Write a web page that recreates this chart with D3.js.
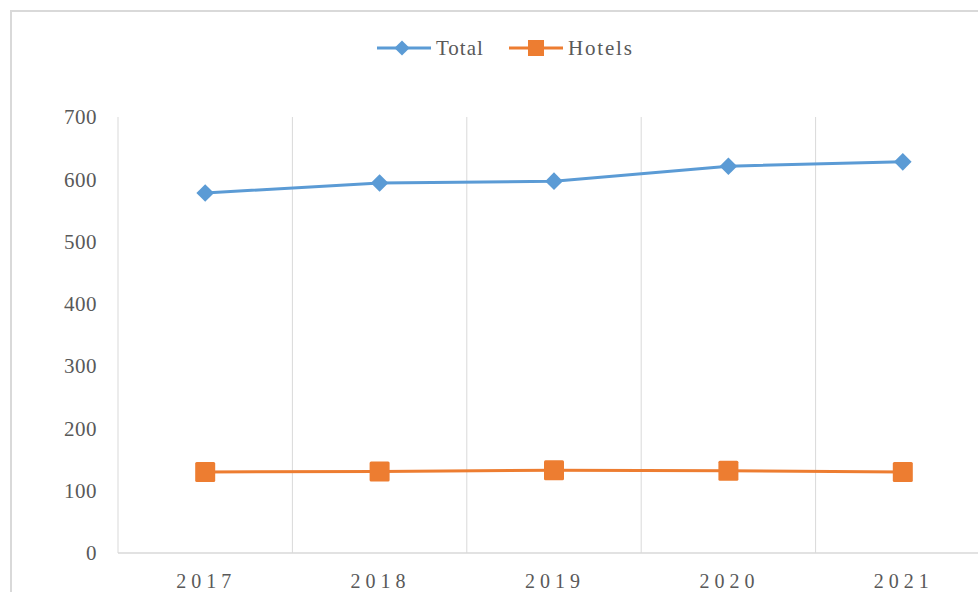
<!DOCTYPE html>
<html>
<head>
<meta charset="utf-8">
<script src="https://d3js.org/d3.v7.min.js"></script>
<style>
  body { margin: 0; background: #fff; }
  text { font-family: "Liberation Serif", "Times New Roman", serif; fill: #595959; }
</style>
</head>
<body>
<div id="chart"></div>
<script>
// data
const years = ["2017", "2018", "2019", "2020", "2021"];
const total = [578, 594, 597, 621, 628];
const hotels = [130, 131, 133, 132, 130];
const yTicks = [0, 100, 200, 300, 400, 500, 600, 700];

const width = 978, height = 592;
// plot area (right edge runs past the window, like the reference)
let margin = {top: 117, left: 118, bottom: 39};
let plotRight = 990;

const svg = d3.select("#chart").append("svg")
    .attr("width", width)
    .attr("height", height);

// outer frame
svg.append("rect")
    .attr("x", 11).attr("y", 11)
    .attr("width", 1000).attr("height", 700)
    .attr("fill", "none")
    .attr("stroke", "#d9d9d9")
    .attr("stroke-width", 2);

const x = d3.scaleBand()
    .domain(years)
    .range([margin.left, plotRight]);

const y = d3.scaleLinear()
    .domain([0, 700])
    .range([height - margin.bottom, margin.top]);

// vertical gridlines at category edges
const edges = years.map(d => x(d)).concat([x(years[years.length - 1]) + x.bandwidth()]);
svg.append("g").selectAll("line")
    .data(edges)
    .join("line")
    .attr("x1", d => d).attr("x2", d => d)
    .attr("y1", y(700)).attr("y2", y(0))
    .attr("stroke", "#d9d9d9")
    .attr("stroke-width", 1);

// bottom axis line
svg.append("line")
    .attr("x1", margin.left).attr("x2", plotRight)
    .attr("y1", y(0)).attr("y2", y(0))
    .attr("stroke", "#d9d9d9")
    .attr("stroke-width", 1.5);

// y tick labels
svg.append("g").selectAll("text")
    .data(yTicks)
    .join("text")
    .attr("x", 97)
    .attr("y", d => y(d))
    .attr("dy", "0.35em")
    .attr("text-anchor", "end")
    .style("font-size", "21px")
    .style("letter-spacing", "0.5px")
    .text(d => d);

// x tick labels
svg.append("g").selectAll("text")
    .data(years)
    .join("text")
    .attr("x", d => x(d) + x.bandwidth() / 2 + 1)
    .attr("y", 588)
    .attr("text-anchor", "middle")
    .style("font-size", "20px")
    .style("letter-spacing", "5px")
    .text(d => d);

const line = d3.line()
    .x((d, i) => x(years[i]) + x.bandwidth() / 2)
    .y(d => y(d));

const blue = "#5b9bd5", orange = "#ed7d31";

svg.append("path")
    .datum(total)
    .attr("d", line)
    .attr("fill", "none")
    .attr("stroke", blue)
    .attr("stroke-width", 3);

svg.append("path")
    .datum(hotels)
    .attr("d", line)
    .attr("fill", "none")
    .attr("stroke", orange)
    .attr("stroke-width", 3);

const diamond = d3.symbol().type(d3.symbolSquare).size(155);

svg.append("g").selectAll("path")
    .data(total)
    .join("path")
    .attr("d", diamond)
    .attr("transform", (d, i) => "translate(" + (x(years[i]) + x.bandwidth() / 2) + "," + y(d) + ") rotate(45)")
    .attr("fill", blue);

svg.append("g").selectAll("rect")
    .data(hotels)
    .join("rect")
    .attr("x", (d, i) => x(years[i]) + x.bandwidth() / 2 - 10)
    .attr("y", d => y(d) - 10)
    .attr("width", 20).attr("height", 20)
    .attr("rx", 1.5)
    .attr("fill", orange);

// legend
const legend = svg.append("g");
legend.append("line")
    .attr("x1", 377).attr("x2", 431).attr("y1", 48).attr("y2", 48)
    .attr("stroke", blue).attr("stroke-width", 3);
legend.append("path")
    .attr("d", d3.symbol().type(d3.symbolSquare).size(115))
    .attr("transform", "translate(402,48) rotate(45)")
    .attr("fill", blue);
legend.append("text")
    .attr("x", 436).attr("y", 48).attr("dy", "0.35em")
    .style("font-size", "21px")
    .style("letter-spacing", "1px")
    .text("Total");

legend.append("line")
    .attr("x1", 509).attr("x2", 563).attr("y1", 48).attr("y2", 48)
    .attr("stroke", orange).attr("stroke-width", 3);
legend.append("rect")
    .attr("x", 528).attr("y", 40).attr("width", 16).attr("height", 16)
    .attr("fill", orange);
legend.append("text")
    .attr("x", 568).attr("y", 48).attr("dy", "0.35em")
    .style("font-size", "21px")
    .style("letter-spacing", "1.8px")
    .text("Hotels");
</script>
</body>
</html>
